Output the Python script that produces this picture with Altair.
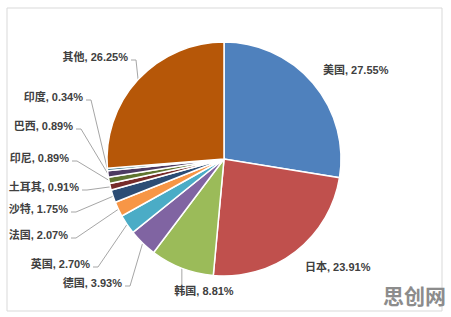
import math
import altair as alt
import pandas as pd

# ---- data ----
countries = ["美国", "日本", "韩国", "德国", "英国", "法国", "沙特", "土耳其", "印尼", "巴西", "印度", "其他"]
shares = [27.55, 23.91, 8.81, 3.93, 2.70, 2.07, 1.75, 0.91, 0.89, 0.89, 0.34, 26.25]
colors = ["#4F81BD", "#C0504D", "#9BBB59", "#8064A2", "#4BACC6", "#F79646",
          "#2C4D75", "#772C2A", "#5F7530", "#4D3B62", "#276A7C", "#B65708"]

# ---- layout ----
W, H = 451, 317
CX, CY, R = 224, 159, 117
# label anchor (x, y, align, leader?)
label_layout = {
    "美国": (323, 71, "left", False),
    "日本": (305, 268, "left", False),
    "韩国": (204, 292, "center", True),
    "德国": (122, 284, "right", True),
    "英国": (90, 265, "right", True),
    "法国": (68, 236, "right", True),
    "沙特": (68, 210, "right", True),
    "土耳其": (79, 188, "right", True),
    "印尼": (69, 159, "right", True),
    "巴西": (73, 127, "right", True),
    "印度": (83, 98, "right", True),
    "其他": (128, 58, "right", True),
}

df = pd.DataFrame({"country": countries, "share": shares, "idx": list(range(len(countries)))})
df["label"] = [f"{c}, {v:.2f}%" for c, v in zip(countries, shares)]

color_scale = alt.Scale(domain=countries, range=colors)

pie = alt.Chart(df).mark_arc(outerRadius=R, stroke="white", strokeWidth=1.5).encode(
    theta=alt.Theta("share:Q", stack=True),
    order=alt.Order("idx:Q"),
    color=alt.Color("country:N", scale=color_scale, legend=None),
    x=alt.value(CX),
    y=alt.value(CY),
)

# labels
lab_rows = []
for c, lab in zip(countries, df["label"]):
    lx, ly, al, _ = label_layout[c]
    lab_rows.append({"label": lab, "lx": lx, "ly": ly, "align": al})
lab_df = pd.DataFrame(lab_rows)

def text_layer(align):
    d = lab_df[lab_df["align"] == align]
    return alt.Chart(d).mark_text(
        align=align, baseline="middle", fontSize=11, fontWeight="bold",
        font="Liberation Sans, Noto Sans CJK SC", color="#404040",
    ).encode(
        x=alt.X("lx:Q", scale=None),
        y=alt.Y("ly:Q", scale=None),
        text="label:N",
    )

texts = [text_layer(a) for a in ["left", "right", "center"]]

# leader lines from the label to the slice's mid-angle edge point
total = sum(shares)
cum = 0.0
line_rows = []
for c, v in zip(countries, shares):
    mid = (cum + v / 2) / total * 2 * math.pi
    cum += v
    lx, ly, al, leader = label_layout[c]
    if not leader:
        continue
    ex = CX + R * math.sin(mid)
    ey = CY - R * math.cos(mid)
    if al == "center":
        pts = [(ex, ey), (ex, ly - 7)]
    else:
        pts = [(lx + 3, ly + 2), (lx + 8, ly + 2), (ex, ey)]
    for i, (px, py) in enumerate(pts):
        line_rows.append({"country": c, "i": i, "px": px, "py": py})
line_df = pd.DataFrame(line_rows)

leaders = alt.Chart(line_df).mark_line(color="#A6A6A6", strokeWidth=1).encode(
    x=alt.X("px:Q", scale=None),
    y=alt.Y("py:Q", scale=None),
    detail="country:N",
    order="i:Q",
)

frame = alt.Chart(pd.DataFrame({"a": [0]})).mark_rect(
    fill=None, stroke="#D9D9D9", strokeWidth=1
).encode(x=alt.value(7), x2=alt.value(442), y=alt.value(8), y2=alt.value(311))

watermark = alt.Chart(pd.DataFrame({"t": ["思创网"]})).mark_text(
    align="right", baseline="middle", fontSize=21, fontWeight="bold",
    font="Noto Sans CJK SC", color="#8C8C8C",
).encode(x=alt.value(446), y=alt.value(298), text="t:N")

chart = alt.layer(frame, leaders, pie, *texts, watermark).properties(
    width=W, height=H, autosize=alt.AutoSizeParams(type="none"), padding=0,
    background="white",
).configure_view(stroke=None)

chart.save("out.html", embed_options={"renderer": "svg", "actions": False})
